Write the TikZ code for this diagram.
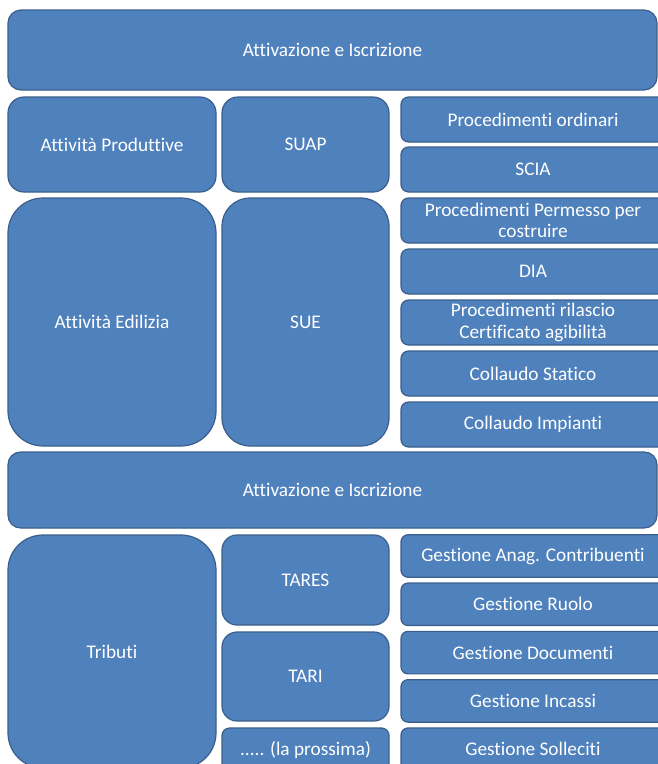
\documentclass[tikz,border=0pt]{standalone}
\usepackage{fontspec}
\setmainfont{Carlito}[Ligatures={NoCommon}]
\definecolor{cellfill}{HTML}{4F81BD}
\definecolor{celledge}{HTML}{3A5E8C}
\begin{document}
\begin{tikzpicture}[x=1pt,y=-1pt,
  cell/.style={rectangle, draw=celledge, fill=cellfill, line width=1.2pt,
    text=white, align=center, inner sep=0pt, outer sep=0pt,
    font=\fontsize{19.3}{21.5}\selectfont},
  wide/.style={cell, minimum width=649pt},
  side/.style={cell, minimum width=208pt},
  mid/.style={cell, minimum width=167pt},
  item/.style={cell, minimum width=264pt}]
\useasboundingbox (0,0) rectangle (658,764);
\clip (0,0) rectangle (658,764);

% first band
\node[wide, minimum height=80pt, rounded corners=13pt] (att1) at (332.5,50) {Attivazione e Iscrizione};

% productive activities
\node[side, minimum height=95pt, rounded corners=16pt] (prod) at (112,144.5) {Attività Produttive};
\node[mid, minimum height=95pt, rounded corners=16pt] (suap) at (305.5,144.5) {SUAP};
\node[item, minimum height=45pt, rounded corners=7.5pt] (ord) at (533,119.5) {Procedimenti ordinari};
\node[item, minimum height=45pt, rounded corners=7.5pt] (scia) at (533,169.5) {SCIA};

% building activities
\node[side, minimum height=248pt, rounded corners=35pt] (edil) at (112,322) {Attività Edilizia};
\node[mid, minimum height=248pt, rounded corners=28pt] (sue) at (305.5,322) {SUE};
\node[item, minimum height=45pt, rounded corners=7.5pt] (perm) at (533,220.5) {Procedimenti Permesso per\\costruire};
\node[item, minimum height=45pt, rounded corners=7.5pt] (dia) at (533,271.5) {DIA};
\node[item, minimum height=45pt, rounded corners=7.5pt] (ril) at (533,322.5) {Procedimenti rilascio\\Certificato agibilità};
\node[item, minimum height=45pt, rounded corners=7.5pt] (stat) at (533,373.5) {Collaudo Statico};
\node[item, minimum height=45pt, rounded corners=7.5pt] (imp) at (533,424.5) {Collaudo Impianti};

% second band
\node[wide, minimum height=76pt, rounded corners=12.7pt] (att2) at (332.5,490) {Attivazione e Iscrizione};

% taxes
\node[side, minimum height=233pt, rounded corners=35pt] (trib) at (112,651.5) {Tributi};
\node[mid, minimum height=90pt, rounded corners=15pt] (tares) at (305.5,580) {TARES};
\node[mid, minimum height=89pt, rounded corners=15pt] (tari) at (305.5,676.5) {TARI};
\node[mid, minimum height=44pt, rounded corners=7.5pt] (next) at (305.5,750) {..... (la prossima)};
\node[item, minimum height=42.5pt, rounded corners=7pt] (anag) at (533,556) {Gestione Anag. Contribuenti};
\node[item, minimum height=42.5pt, rounded corners=7pt] (ruolo) at (533,604.3) {Gestione Ruolo};
\node[item, minimum height=42.5pt, rounded corners=7pt] (doc) at (533,652.6) {Gestione Documenti};
\node[item, minimum height=42.5pt, rounded corners=7pt] (inc) at (533,700.9) {Gestione Incassi};
\node[item, minimum height=42.5pt, rounded corners=7pt] (sol) at (533,749.2) {Gestione Solleciti};
\end{tikzpicture}
\end{document}
